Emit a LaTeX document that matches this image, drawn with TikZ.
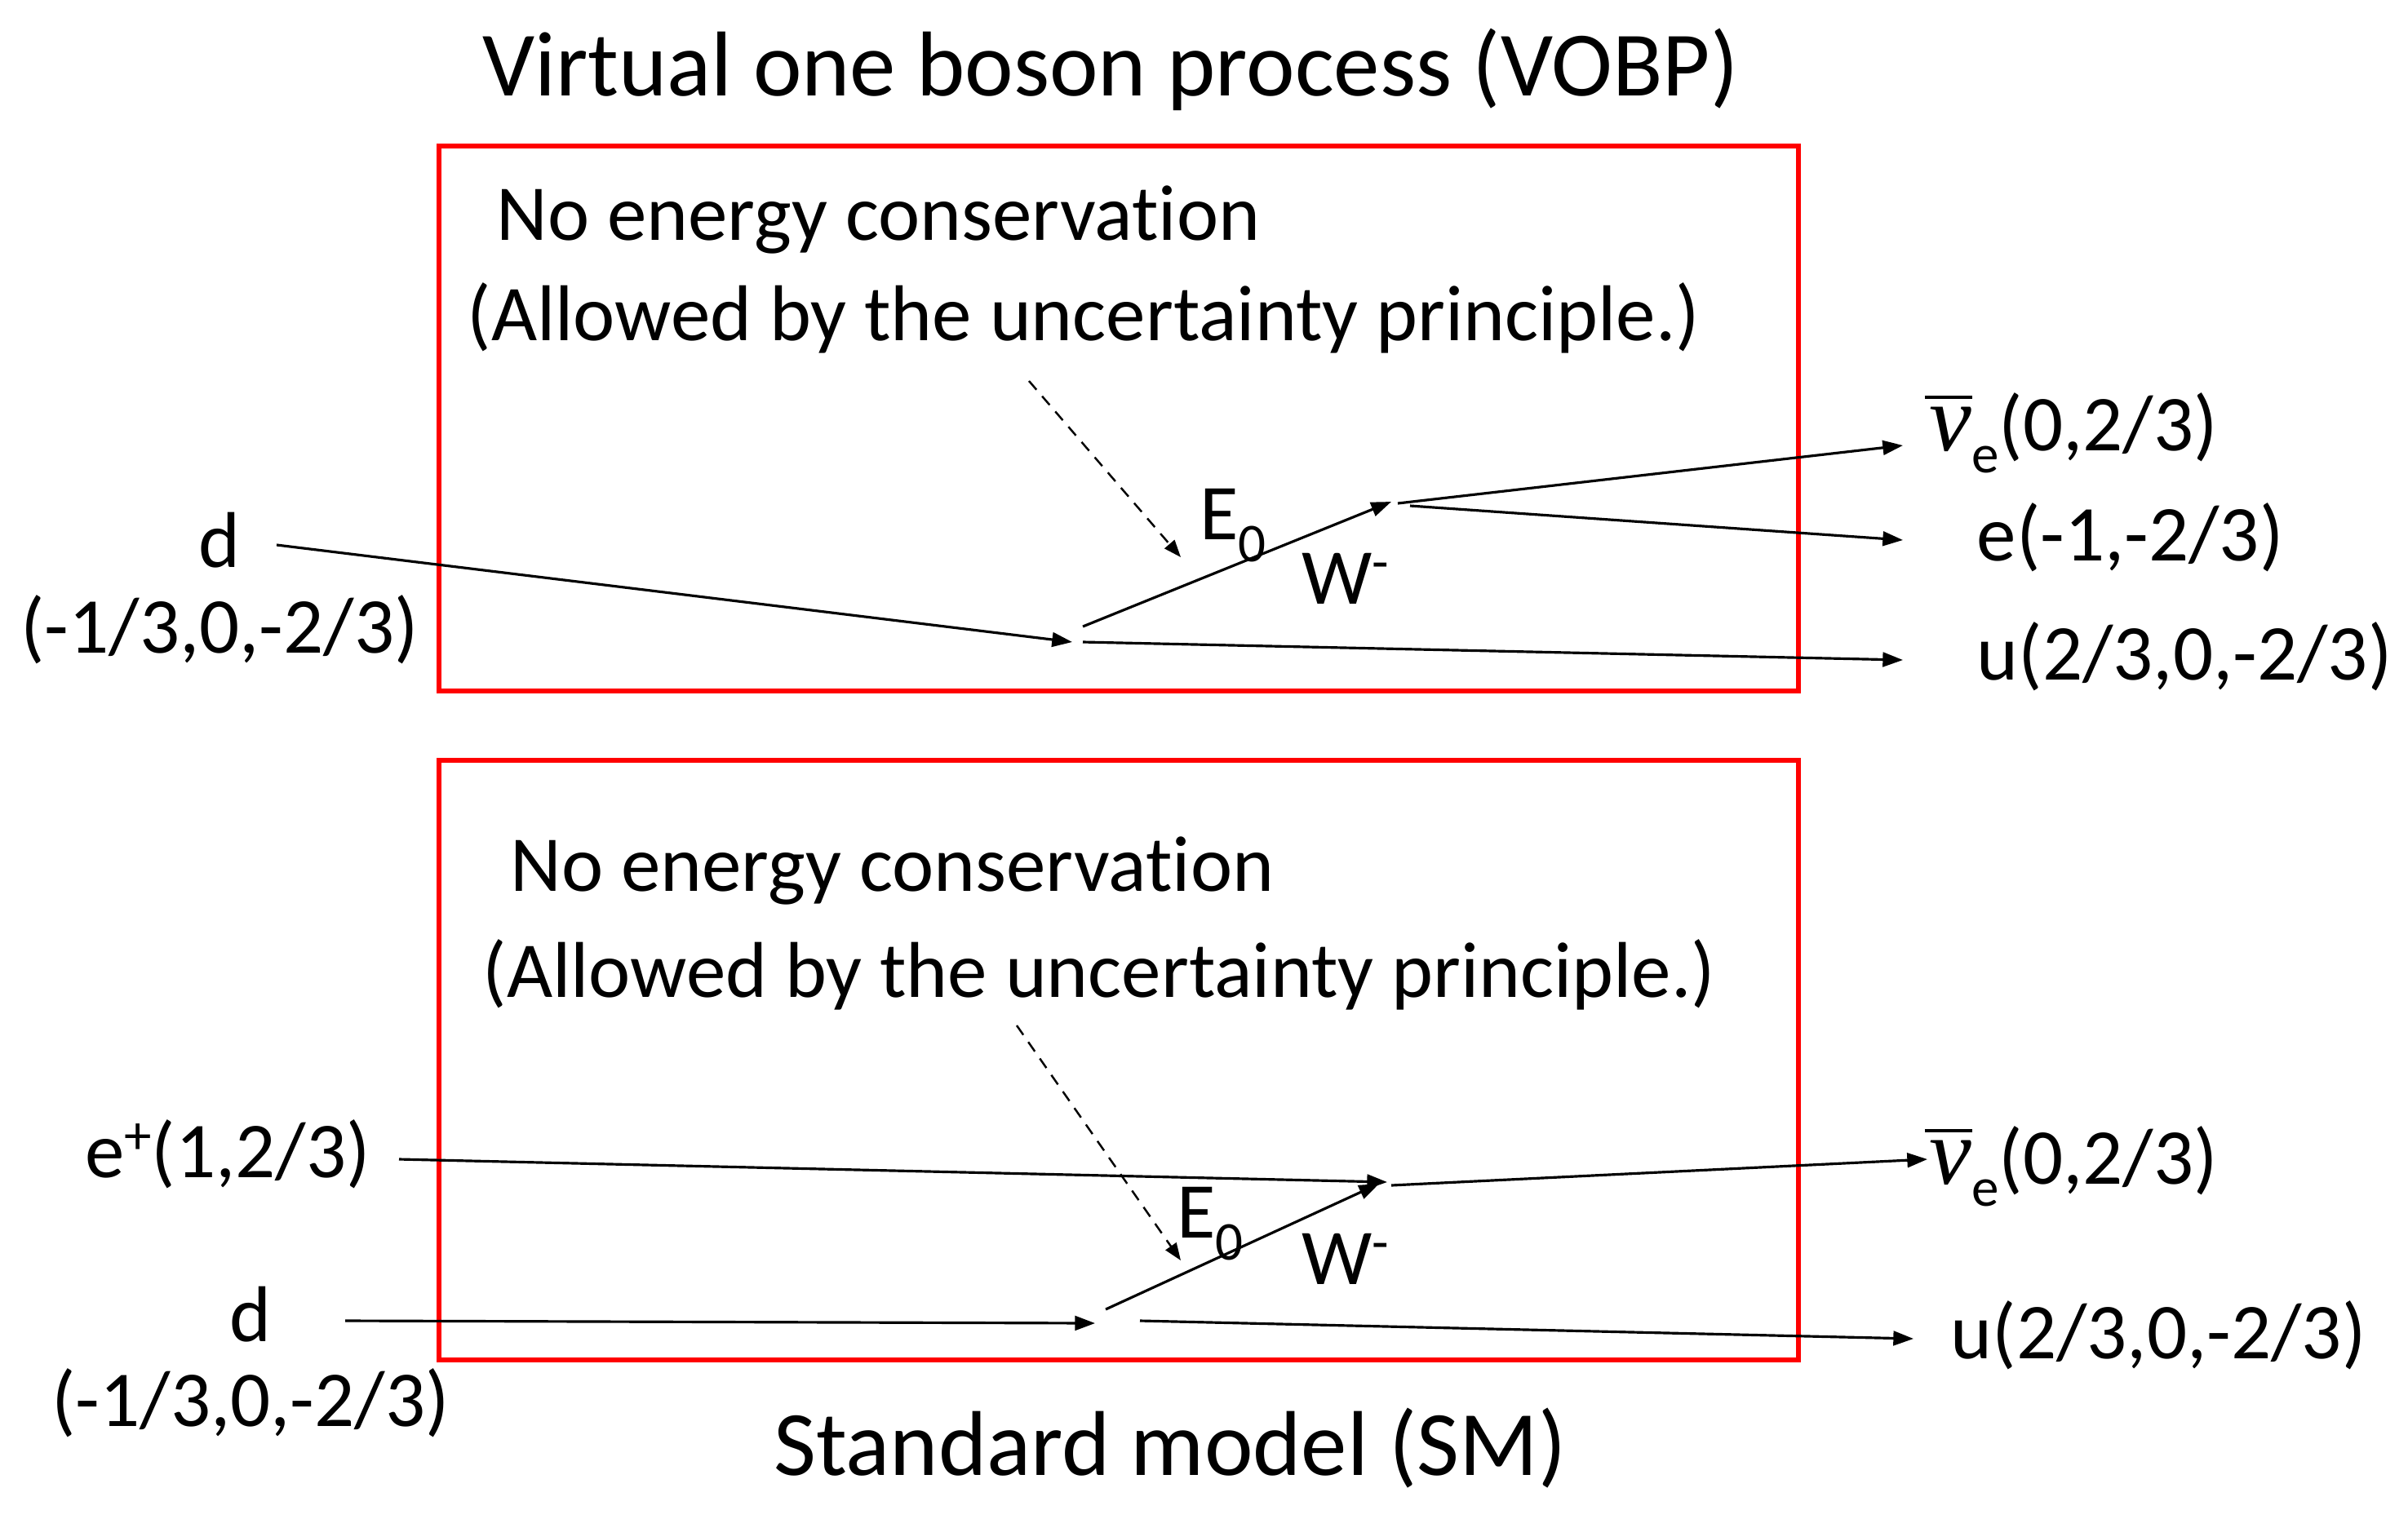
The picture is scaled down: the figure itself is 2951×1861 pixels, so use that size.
\documentclass[tikz,border=0pt]{standalone}
\usepackage{fontspec}
\setmainfont[Ligatures={NoCommon,NoContextual},RawFeature={-liga;-clig;-calt;-dlig}]{Carlito}
\newfontfamily\nufont{Liberation Serif}
\usetikzlibrary{arrows.meta}
\newcommand{\mysub}[1]{\raisebox{-0.28em}{\fontsize{19}{19}\selectfont #1}}
\newcommand{\mysup}[1]{\raisebox{0.3em}{\fontsize{19}{19}\selectfont #1}}
\newcommand{\nubar}{\rlap{\raisebox{0.66em}{\hspace{-0.06em}\rule{0.6em}{1.1pt}}}{\nufont\itshape\fontsize{33}{33}\selectfont ν}\mysub{e}}
\tikzset{
  lab/.style={font=\fontsize{27.5}{33}\selectfont, inner sep=0pt},
  ttl/.style={font=\fontsize{32}{38}\selectfont, inner sep=0pt},
  redbox/.style={draw=red, line width=1.7pt},
  arr/.style={-{Triangle[length=7pt,width=5pt]}, line width=0.9pt},
  dsh/.style={-{Triangle[length=6pt,width=4.5pt]}, line width=0.7pt, dash pattern=on 4pt off 3pt}
}
\begin{document}
\begin{tikzpicture}[x=0.2835pt,y=-0.2835pt]
\useasboundingbox (0,0) rectangle (2951,1861);
% ---------- top: VOBP ----------
\node[ttl] (t1) at (1361,85) {Virtual one boson process (VOBP)};
\draw[redbox] (538,179) rectangle (2204,847);
\node[lab, anchor=west] (nec1) at (608,269) {No energy conservat\kern0pt ion};
\node[lab, anchor=west] (aub1) at (572,390) {(Allowed by the uncertainty principle.)};
\node[lab] (d1) at (269,662) {d};
\node[lab] (d1q) at (269,772) {(-1/3,0,-2/3)};
\node[lab, anchor=west] (nu1) at (2364,531) {\nubar(0,2/3)};
\node[lab, anchor=west] (e1) at (2422,659) {e(-1,-2/3)};
\node[lab, anchor=west] (u1) at (2422,805) {u(2/3,0,-2/3)};
\node[lab] (E1) at (1511,644) {E\mysub{0}};
\node[lab] (W1) at (1649,709) {W\mysup{-}};
\coordinate (a1s) at (339,668);
\coordinate (a1e) at (1314,787);
\coordinate (w1s) at (1327,768);
\coordinate (w1e) at (1705,615);
\coordinate (o1) at (1713,617);
\coordinate (o1b) at (1728,620);
\coordinate (u1s) at (1327,787);
\coordinate (nu1e) at (2332,546);
\coordinate (e1e) at (2332,662);
\coordinate (u1e) at (2332,809);
\coordinate (ds1) at (1261,467);
\coordinate (de1) at (1447,683);
\draw[arr] (a1s) -- (a1e);
\draw[arr] (w1s) -- (w1e);
\draw[arr] (o1) -- (nu1e);
\draw[arr] (o1b) -- (e1e);
\draw[arr] (u1s) -- (u1e);
\draw[dsh] (ds1) -- (de1);
% ---------- bottom: SM ----------
\draw[redbox] (538,932) rectangle (2204,1667);
\node[lab, anchor=west] (nec2) at (625,1067) {No energy conservat\kern0pt ion};
\node[lab, anchor=west] (aub2) at (591,1195) {(Allowed by the uncertainty principle.)};
\node[lab] (ep2) at (279,1415) {e\mysup{+}(1,2/3)};
\node[lab] (d2) at (307,1611) {d};
\node[lab] (d2q) at (307,1720) {(-1/3,0,-2/3)};
\node[lab, anchor=west] (nu2) at (2364,1430) {\nubar(0,2/3)};
\node[lab, anchor=west] (u2) at (2390,1637) {u(2/3,0,-2/3)};
\node[lab] (E2) at (1483,1500) {E\mysub{0}};
\node[lab] (W2) at (1649,1543) {W\mysup{-}};
\coordinate (ep2s) at (489,1421);
\coordinate (ep2e) at (1700,1449);
\coordinate (d2s) at (423,1619);
\coordinate (d2e) at (1342,1622);
\coordinate (w2s) at (1355,1605);
\coordinate (w2e) at (1690,1451);
\coordinate (o2) at (1705,1453);
\coordinate (nu2e) at (2362,1421);
\coordinate (u2s) at (1397,1619);
\coordinate (u2e) at (2345,1641);
\coordinate (ds2) at (1246,1257);
\coordinate (de2) at (1447,1545);
\draw[arr] (ep2s) -- (ep2e);
\draw[arr] (d2s) -- (d2e);
\draw[arr] (w2s) -- (w2e);
\draw[arr] (o2) -- (nu2e);
\draw[arr] (u2s) -- (u2e);
\draw[dsh] (ds2) -- (de2);
\node[ttl] (t2) at (1434,1775) {Standard model (SM)};
\end{tikzpicture}
\end{document}
